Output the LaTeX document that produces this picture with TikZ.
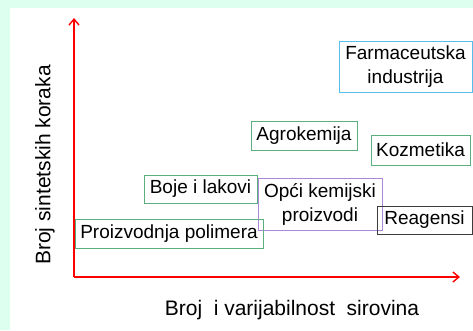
\documentclass[tikz,border=0pt]{standalone}
\usepackage{fontspec}
\setmainfont{Liberation Sans}
\usetikzlibrary{arrows.meta}
\definecolor{mint}{RGB}{221,255,240}
\definecolor{bgreen}{RGB}{90,175,125}
\definecolor{bcyan}{RGB}{85,190,235}
\definecolor{bpurple}{RGB}{175,135,215}
\definecolor{bdark}{RGB}{60,60,60}
\tikzset{
  lbl/.style={draw,line width=0.8pt,inner sep=0pt,align=center,
    font=\fontsize{19}{24}\selectfont, text=black},
  axis/.style={red,line width=1.6pt,-{Straight Barb[length=6pt,width=10pt,line width=1.4pt]}},
  axlbl/.style={font=\fontsize{21}{24}\selectfont, text=black}
}
\begin{document}
\begin{tikzpicture}[x=1pt,y=1pt]
\useasboundingbox (0,0) rectangle (473,330);
\fill[mint] (0,0) rectangle (473,330);
\fill[white] (10,0) rectangle (473,322);
\coordinate (o) at (74,53);
\coordinate (ytop) at (74,312);
\coordinate (xend) at (460,53);
\draw[axis] (o) -- (ytop);
\draw[axis] (o) -- (xend);
\node[lbl,draw=bcyan,minimum width=133pt,minimum height=51pt] (farm) at (405.5,263.5) {Farmaceutska\\industrija};
\node[lbl,draw=bgreen,minimum width=106pt,minimum height=29pt] (agro) at (304,194.5) {Agrokemija};
\node[lbl,draw=bgreen,minimum width=99pt,minimum height=30pt] (kozm) at (420.5,180) {Kozmetika};
\node[lbl,draw=bgreen,minimum width=113pt,minimum height=28pt] (boje) at (200.5,141) {Boje i lakovi};
\node[lbl,draw=bpurple,minimum width=124pt,minimum height=52pt] (opci) at (320,125.5) {Opći kemijski\\proizvodi};
\node[lbl,draw=bgreen,minimum width=188pt,minimum height=29pt] (polim) at (169,96.5) {Proizvodnja polimera};
\node[lbl,draw=bdark,minimum width=95pt,minimum height=28pt] (reag) at (424.5,110) {Reagensi};
\node[axlbl] (xl) at (292,20) {Broj\hspace{0.55em}i varijabilnost\hspace{0.55em}sirovina};
\node[axlbl,rotate=90] (yl) at (45,165) {Broj sintetskih koraka};
\end{tikzpicture}
\end{document}
